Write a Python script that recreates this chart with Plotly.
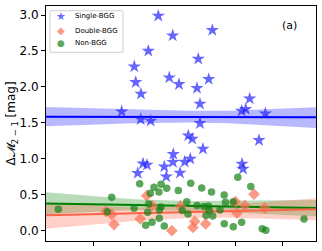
import plotly.graph_objects as go

# ---- data ----
single_x = [2.371, 2.675, 2.160, 1.864, 1.894, 2.005, 2.603, 2.808, 3.511, 3.215, 3.188, 3.435,
            4.300, 3.251, 4.131, 4.216, 4.630, 3.251, 3.004, 3.088, 3.314, 4.497, 2.928, 3.046,
            4.138, 4.159, 1.598, 1.999, 2.210, 1.936, 2.048, 2.132, 2.497, 2.540, 2.687, 2.681, 2.829]
single_y = [2.987, 2.714, 2.501, 2.283, 2.066, 1.904, 2.130, 2.038, 2.789, 2.390, 1.983, 2.108,
            1.838, 1.765, 1.667, 1.691, 1.630, 1.496, 1.324, 1.278, 1.139, 1.260, 0.959, 1.000,
            0.931, 0.861, 1.658, 1.552, 1.528, 0.802, 0.935, 0.917, 0.893, 0.754, 1.066, 0.955, 0.806]

double_x = [1.267, 1.387, 1.435, 1.989, 2.126, 2.242, 2.656, 2.839, 3.103, 3.139, 3.371, 4.000,
            4.032, 4.197, 4.391, 4.619]
double_y = [0.271, 0.229, 0.088, 0.167, 0.490, 0.352, 0.003, 0.347, 0.049, 0.132, 0.097, 0.407,
            0.246, 0.354, 0.510, 0.317]

non_x = [0.260, 1.387, 1.294, 1.858, 1.978, 2.105, 2.168, 2.147, 2.202, 2.280, 2.238, 2.385,
         2.428, 2.548, 2.392, 2.428, 2.392, 2.497, 2.793, 3.055, 3.287, 3.494, 3.762, 4.049,
         4.323, 2.877, 2.972, 2.998, 3.188, 3.335, 3.430, 3.378, 3.519, 3.447, 3.673, 3.789,
         3.952, 3.764, 3.954, 4.131, 4.564, 4.640, 5.447]
non_y = [0.302, 0.468, 0.268, 0.315, 0.657, 0.079, 0.375, 0.260, 0.524, 0.607, 0.121, 0.542,
         0.649, 0.593, 0.292, 0.333, 0.176, 0.069, 0.560, 0.663, 0.597, 0.542, 0.500, 0.746,
         0.616, 0.285, 0.406, 0.236, 0.352, 0.340, 0.347, 0.215, 0.206, 0.285, 0.292, 0.400,
         0.406, 0.101, 0.058, 0.122, 0.031, 0.011, 0.167]

# fitted lines and confidence bands
band_x = [0.0, 1.858, 3.04, 3.842, 5.7]
line_x = [0.0, 5.7]
single_line = [1.588, 1.580]
single_lo = [1.454, 1.496, 1.505, 1.496, 1.430]
single_hi = [1.722, 1.685, 1.668, 1.671, 1.718]
non_line = [0.382, 0.319]
non_lo = [0.230, 0.290, 0.278, 0.260, 0.200]
non_hi = [0.537, 0.440, 0.415, 0.420, 0.430]
double_line = [0.218, 0.301]
double_lo = [0.030, 0.139, 0.180, 0.185, 0.150]
double_hi = [0.390, 0.325, 0.340, 0.365, 0.455]

x_ticks = [1, 2, 3, 4, 5]
y_ticks = [0.0, 0.5, 1.0, 1.5, 2.0, 2.5, 3.0]
y_tick_labels = ["0.0", "0.5", "1.0", "1.5", "2.0", "2.5", "3.0"]

legend_labels = ["Single-BGG", "Double-BGG", "Non-BGG"]
legend_glyphs = ["★", "◆", "●"]

C_SINGLE = "rgba(30,30,255,0.68)"
C_DOUBLE = "rgba(250,110,80,0.7)"
C_NON = "rgba(20,130,20,0.7)"

fig = go.Figure()


def band(xs, lo, hi, fill):
    fig.add_trace(go.Scatter(x=xs, y=lo, mode="lines", line=dict(width=0),
                             showlegend=False, hoverinfo="skip"))
    fig.add_trace(go.Scatter(x=xs, y=hi, mode="lines", line=dict(width=0),
                             fill="tonexty", fillcolor=fill, showlegend=False, hoverinfo="skip"))


band(band_x, single_lo, single_hi, "rgba(0,0,255,0.28)")
band(band_x, non_lo, non_hi, "rgba(0,128,0,0.28)")
band(band_x, double_lo, double_hi, "rgba(255,99,71,0.30)")

fig.add_trace(go.Scatter(x=line_x, y=single_line, mode="lines",
                         line=dict(color="#0000ff", width=2), showlegend=False))
fig.add_trace(go.Scatter(x=line_x, y=non_line, mode="lines",
                         line=dict(color="#008000", width=2), showlegend=False))
fig.add_trace(go.Scatter(x=line_x, y=double_line, mode="lines",
                         line=dict(color="#ff6347", width=2), showlegend=False))

fig.add_trace(go.Scatter(x=single_x, y=single_y, mode="markers", name=legend_labels[0],
                         showlegend=False,
                         marker=dict(symbol="star", size=10, color=C_SINGLE, line=dict(width=0))))
fig.add_trace(go.Scatter(x=double_x, y=double_y, mode="markers", name=legend_labels[1],
                         showlegend=False,
                         marker=dict(symbol="diamond", size=9, color=C_DOUBLE, line=dict(width=0))))
fig.add_trace(go.Scatter(x=non_x, y=non_y, mode="markers", name=legend_labels[2],
                         showlegend=False,
                         marker=dict(symbol="circle", size=7.5, color=C_NON, line=dict(width=0))))

# legend box drawn as layout decoration (text entries are real text)
legend_rows_y = [0.957, 0.894, 0.841]
glyph_colors = [C_SINGLE, C_DOUBLE, C_NON]
glyph_sizes = [11, 10, 9]
annotations = [
    dict(text="(a)", x=0.937, y=0.915, xref="paper", yref="paper",
         xanchor="right", yanchor="middle", showarrow=False,
         font=dict(size=11, family="DejaVu Sans")),
    dict(text="Δ𝓜<sub>2 − 1</sub> [mag]", x=-0.126, y=0.5, xref="paper", yref="paper",
         xanchor="center", yanchor="middle", textangle=-90, showarrow=False,
         font=dict(size=12, family="DejaVu Sans")),
]
for lab, gl, col, gs, yy in zip(legend_labels, legend_glyphs, glyph_colors, glyph_sizes,
                                legend_rows_y):
    annotations.append(dict(text=gl, x=0.0544, y=yy, xref="paper", yref="paper",
                            xanchor="center", yanchor="middle", showarrow=False,
                            font=dict(size=gs, color=col, family="DejaVu Sans")))
    annotations.append(dict(text=lab, x=0.101, y=yy, xref="paper", yref="paper",
                            xanchor="left", yanchor="middle", showarrow=False,
                            font=dict(size=7, color="black", family="DejaVu Sans")))

fig.update_layout(
    width=322, height=251,
    margin=dict(l=46, r=6, t=6, b=10, autoexpand=False),
    paper_bgcolor="white", plot_bgcolor="white",
    font=dict(family="DejaVu Sans", color="black"),
    showlegend=False,
    shapes=[dict(type="rect", xref="paper", yref="paper", x0=0.0148, x1=0.285,
                 y0=0.803, y1=0.98, line=dict(color="#d0d0d0", width=1),
                 fillcolor="rgba(255,255,255,0.8)", layer="above")],
    annotations=annotations,
)
fig.update_xaxes(range=[0, 5.7], tickvals=x_ticks, showticklabels=False,
                 ticks="outside", ticklen=4, tickcolor="black",
                 showline=True, linecolor="black", linewidth=1, mirror=True,
                 showgrid=False, zeroline=False, automargin=False)
fig.update_yaxes(range=[-0.14, 3.125], tickvals=y_ticks, ticktext=y_tick_labels,
                 ticks="outside", ticklen=4, tickcolor="black",
                 tickfont=dict(size=12, family="DejaVu Sans"),
                 showline=True, linecolor="black", linewidth=1, mirror=True,
                 showgrid=False, zeroline=False, automargin=False)

fig.write_html("out.html", config={"displayModeBar": False},
               post_script="document.body.style.margin='0';")
